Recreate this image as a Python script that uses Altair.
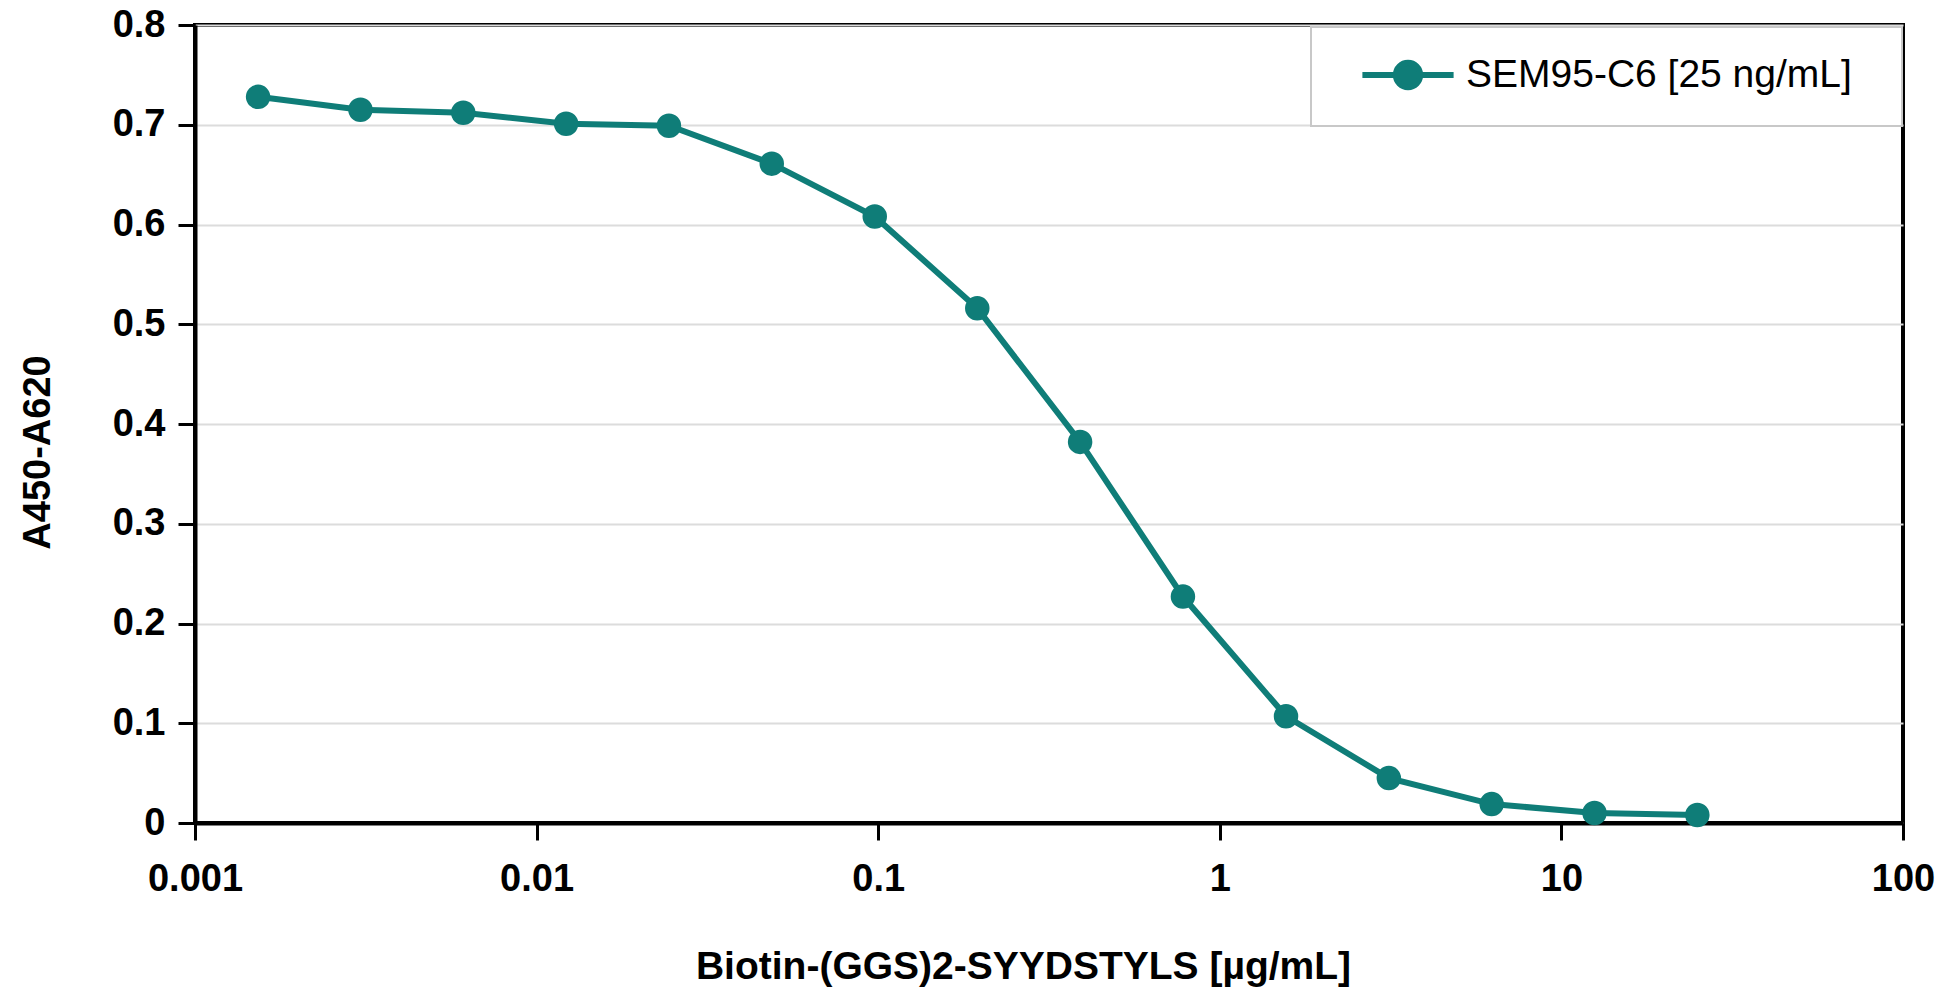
import altair as alt
import pandas as pd

series_name = "SEM95-C6 [25 ng/mL]"
concentration = [0.00153, 0.00305, 0.0061, 0.0122, 0.0244, 0.0488, 0.0977,
                 0.195, 0.39, 0.78, 1.5625, 3.125, 6.25, 12.5, 25]
absorbance = [0.728, 0.715, 0.712, 0.701, 0.699, 0.661, 0.608,
              0.516, 0.382, 0.227, 0.107, 0.045, 0.019, 0.010, 0.008]
x_ticks = [0.001, 0.01, 0.1, 1, 10, 100]
y_ticks = [0, 0.1, 0.2, 0.3, 0.4, 0.5, 0.6, 0.7, 0.8]

TEAL = "#0f7d78"
FONT = "Liberation Sans"

df = pd.DataFrame({"conc": concentration, "abs": absorbance,
                   "series": [series_name] * len(concentration)})

legend_symbol = ("M -2.4 0 L 2.4 0 M 0.64 0 A 0.64 0.64 0 1 1 -0.64 0 "
                 "A 0.64 0.64 0 1 1 0.64 0 Z M 23.97 0")

x_enc = alt.X("conc:Q",
              scale=alt.Scale(type="log", domain=[0.001, 100], nice=False),
              axis=alt.Axis(values=x_ticks, format="~g", grid=False,
                            title="Biotin-(GGS)2-SYYDSTYLS [µg/mL]",
                            titleX=828, titleY=143, titleAlign="center",
                            titleBaseline="middle", titleFontSize=39,
                            labelPadding=20))
y_enc = alt.Y("abs:Q",
              scale=alt.Scale(domain=[0, 0.8], nice=False),
              axis=alt.Axis(values=y_ticks, format="~g", grid=True,
                            title="A450-A620", titleX=-157, titleY=427,
                            titleAngle=-90, titleBaseline="middle",
                            titleAlign="center", titleFontSize=38,
                            labelPadding=13))
color_enc = alt.Color("series:N",
                      scale=alt.Scale(domain=[series_name], range=[TEAL]),
                      legend=alt.Legend(orient="none", legendX=1116, legendY=2,
                                        title=None, symbolType=legend_symbol,
                                        symbolSize=1444, symbolStrokeWidth=6,
                                        symbolFillColor=TEAL,
                                        symbolStrokeColor=TEAL,
                                        symbolOffset=49, labelOffset=36,
                                        padding=26, labelLimit=700,
                                        labelFont=FONT, labelFontSize=39,
                                        labelColor="black",
                                        strokeColor="#c8c8c8",
                                        fillColor="white"))

line = alt.Chart(df).mark_line(strokeWidth=6).encode(x=x_enc, y=y_enc, color=color_enc)
points = alt.Chart(df).mark_circle(size=600, opacity=1).encode(
    x="conc:Q", y="abs:Q", color=alt.Color("series:N", legend=None))

chart = (line + points).properties(
    width=1708, height=798,
    autosize=alt.AutoSizeParams(type="none"),
    padding={"left": 187, "top": 17, "right": 40, "bottom": 170},
    background="white",
).configure_view(
    stroke="black", strokeWidth=4
).configure_axis(
    domainColor="black", domainWidth=4,
    tickColor="black", tickWidth=3, tickSize=17,
    labelFont=FONT, labelFontSize=38, labelFontWeight="bold", labelColor="black",
    titleFont=FONT, titleFontWeight="bold", titleColor="black",
    gridColor="#dcdcdc", gridWidth=2, labelOverlap=False, labelFlush=False,
).configure_legend(
    strokeWidth=2
)

chart.save("out.html", embed_options={"renderer": "svg", "actions": False})
